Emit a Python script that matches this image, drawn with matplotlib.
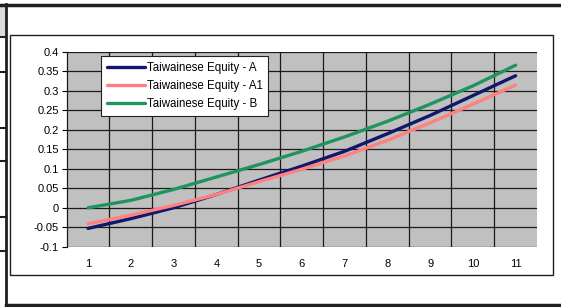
import matplotlib
matplotlib.use("Agg")
import matplotlib.pyplot as plt
from matplotlib.lines import Line2D
from matplotlib.patches import Rectangle
import numpy as np

plt.rcParams["font.family"] = ["Liberation Sans", "DejaVu Sans"]

# ---- data ----
periods = ["1", "2", "3", "4", "5", "6", "7", "8", "9", "10", "11"]
equity_a = [-0.053, -0.028, 0.000, 0.034, 0.071, 0.107, 0.145, 0.190, 0.237, 0.288, 0.339]
equity_a1 = [-0.041, -0.019, 0.006, 0.034, 0.067, 0.099, 0.133, 0.173, 0.218, 0.266, 0.315]
equity_b = [0.000, 0.019, 0.047, 0.079, 0.111, 0.145, 0.182, 0.222, 0.266, 0.313, 0.366]
labels = ["Taiwainese Equity - A", "Taiwainese Equity - A1", "Taiwainese Equity - B"]
colors = ["#13176b", "#ff8080", "#1e9460"]
yticks = [-0.1, -0.05, 0, 0.05, 0.1, 0.15, 0.2, 0.25, 0.3, 0.35, 0.4]
ylabels = ["-0.1", "-0.05", "0", "0.05", "0.1", "0.15", "0.2", "0.25", "0.3", "0.35", "0.4"]

W, H = 561, 307
fig = plt.figure(figsize=(W / 100, H / 100), dpi=100)

def fx(px): return px / W
def fy(py): return 1 - py / H

# ---- worksheet-ish decoration around the chart ----
fig.add_artist(Rectangle((0, fy(37)), fx(5.5), fy(5) - fy(37), transform=fig.transFigure,
                         facecolor="#dcdcdc", edgecolor="none"))
for yy in [37, 72, 128, 161, 217, 251]:
    fig.add_artist(Line2D([0, fx(6)], [fy(yy), fy(yy)], transform=fig.transFigure,
                          color="#202020", lw=1.5))
fig.add_artist(Line2D([0, 1], [fy(5), fy(5)], transform=fig.transFigure, color="#202020", lw=2.5))
fig.add_artist(Line2D([fx(6), 1], [fy(305), fy(305)], transform=fig.transFigure, color="#202020", lw=2.5))
fig.add_artist(Line2D([fx(6), fx(6)], [fy(4), 0], transform=fig.transFigure, color="#202020", lw=2.0))
fig.add_artist(Rectangle((fx(9.5), fy(275)), fx(553) - fx(9.5), fy(35) - fy(275),
                         transform=fig.transFigure, facecolor="none", edgecolor="#202020", lw=1.0))

# ---- plot area ----
left, right, top, bottom = 66.7, 537, 52, 246.7
ax = fig.add_axes([fx(left), fy(bottom), fx(right) - fx(left), fy(top) - fy(bottom)])
ax.set_facecolor("#c0c0c0")

x = np.arange(len(periods))
for vals, lab, col in zip([equity_a, equity_a1, equity_b], labels, colors):
    ax.plot(x, vals, color=col, lw=2.4, label=lab, solid_capstyle="round", zorder=3)

ax.set_xlim(-0.5, len(periods) - 0.5)
ax.set_ylim(-0.1, 0.4)
ax.set_yticks(yticks)
ax.set_yticklabels(ylabels, fontsize=8)
ax.set_xticks(x)
ax.set_xticklabels(periods, fontsize=8)
ax.set_xticks(np.arange(0.5, len(periods) - 1, 1), minor=True)
ax.tick_params(axis="x", which="both", length=0, pad=9)
ax.tick_params(axis="y", length=3.5, width=0.8, pad=2, direction="out")
ax.grid(axis="y", which="major", color="#1a1a1a", lw=0.9)
ax.grid(axis="x", which="minor", color="#1a1a1a", lw=0.9)
for s in ["top", "right", "bottom"]:
    ax.spines[s].set_visible(False)
ax.spines["left"].set_color("#1a1a1a")
ax.spines["left"].set_linewidth(0.9)
ax.set_axisbelow(True)

leg = ax.legend(loc="upper left", bbox_to_anchor=((101 - left) / (right - left), (bottom - 56) / (bottom - top)),
                borderaxespad=0, fontsize=8.3, frameon=True, fancybox=False, framealpha=1,
                edgecolor="#202020", handlelength=3.3, handletextpad=0.15, labelspacing=0.55,
                borderpad=0.5)
leg.get_frame().set_linewidth(0.8)
for h in leg.get_lines():
    h.set_linewidth(2.4)

fig.savefig("out.png", dpi=100)
